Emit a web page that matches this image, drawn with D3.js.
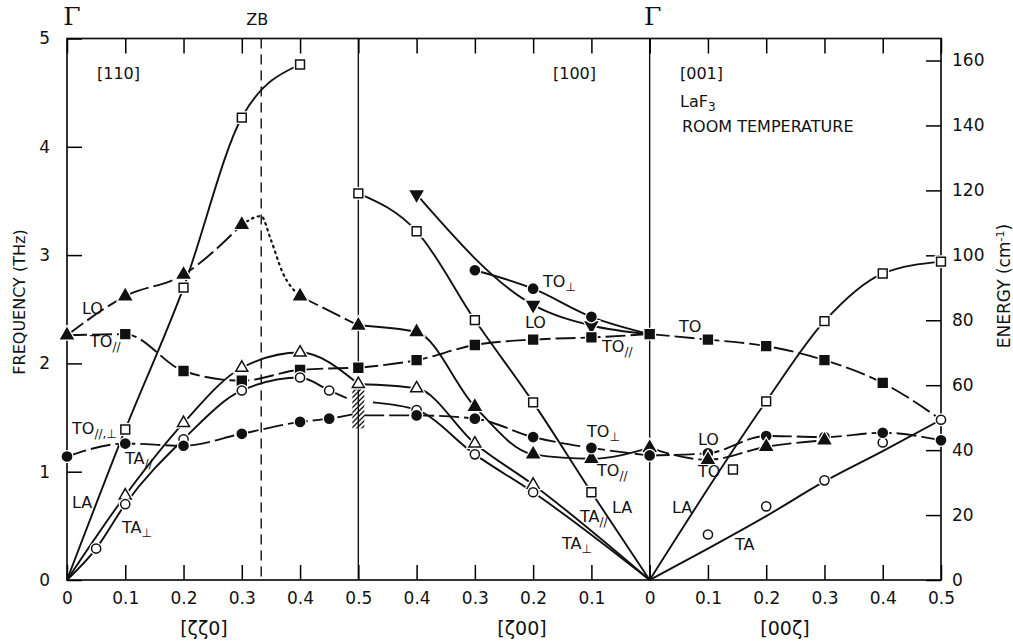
<!DOCTYPE html>
<html>
<head>
<meta charset="utf-8">
<script src="https://cdn.jsdelivr.net/npm/d3@7"></script>
<style>
body { margin: 0; background: #fff; }
text { font-family: "DejaVu Sans", sans-serif; fill: #111; }
</style>
</head>
<body>
<svg id="chart" width="1013" height="644"></svg>
<script>
// [zeta, THz] pairs, one list per branch

const origin = [0, 0];

// [110]
const la110 = [[0.1, 1.39], [0.2, 2.70], [0.3, 4.27], [0.4, 4.76]];
const lo110 = [[0, 2.26], [0.1, 2.62], [0.2, 2.82], [0.3, 3.28], [0.4, 2.62], [0.5, 2.35]];
const loPeak110 = [[0.333, 3.36], [0.35, 3.14], [0.37, 2.84]];   // dotted part
const toPar110 = [[0.1, 2.27], [0.2, 1.93], [0.3, 1.84], [0.4, 1.94], [0.5, 1.96]];
const taPar110 = [[0.1, 0.78], [0.2, 1.45], [0.3, 1.96], [0.4, 2.10], [0.5, 1.81]];
const taPerp110 = [[0.05, 0.29], [0.1, 0.70], [0.2, 1.30], [0.3, 1.75], [0.4, 1.87], [0.45, 1.75]];
const taPerpEnd110 = [0.48, 1.68];
const toPP110 = [[0, 1.14], [0.1, 1.26], [0.2, 1.24], [0.3, 1.35], [0.4, 1.46], [0.45, 1.49]];
const toPPEnd110 = [0.49, 1.53];
const hatchZB = [1.40, 1.77];   // shaded range at zeta = 0.5

// [100]  (zeta runs from 0.5 back to 0)
const la100 = [[0.5, 3.57], [0.4, 3.22], [0.3, 2.40], [0.2, 1.64], [0.1, 0.81]];
const loDown100 = [[0.4, 3.56], [0.2, 2.54], [0.1, 2.35]];
const toPerpUp100 = [[0.3, 2.86], [0.2, 2.69], [0.1, 2.43]];
const toPar100 = [[0.4, 2.03], [0.3, 2.17], [0.2, 2.22], [0.1, 2.24], [0, 2.27]];
const toParLow100 = [[0.4, 2.29], [0.3, 1.60], [0.2, 1.16], [0.1, 1.12], [0, 1.22]];
const taPar100 = [[0.4, 1.77], [0.3, 1.26], [0.2, 0.88]];
const taPerpStart100 = [0.475, 1.64];
const taPerp100 = [[0.4, 1.57], [0.3, 1.16], [0.2, 0.81]];
const toPerpLowStart100 = [0.49, 1.52];
const toPerpLow100 = [[0.4, 1.52], [0.3, 1.49], [0.2, 1.32], [0.1, 1.22], [0, 1.15]];

// [001]
const la001 = [[0.2, 1.65], [0.3, 2.39], [0.4, 2.83], [0.5, 2.94]];
const extra001 = [[0.143, 1.02]];
const to001 = [[0.1, 2.22], [0.2, 2.16], [0.3, 2.03], [0.4, 1.82]];
const ta001 = [[0.1, 0.42], [0.2, 0.68], [0.3, 0.92], [0.4, 1.27], [0.5, 1.48]];
const taFit001 = [[0, 0], [0.1, 0.29], [0.2, 0.59], [0.3, 0.91], [0.4, 1.19], [0.5, 1.48]];
const lo001 = [[0.1, 1.17], [0.2, 1.33], [0.3, 1.32], [0.4, 1.36], [0.5, 1.29]];
const toLow001 = [[0.1, 1.11], [0.2, 1.23], [0.3, 1.29]];

const freqTicks = [0, 1, 2, 3, 4, 5];
const energyTicks = [0, 20, 40, 60, 80, 100, 120, 140, 160];
const cmPerTHz = 33.356;

// ---------------------------------------------------------------

const svg = d3.select("#chart");
const x = d3.scaleLinear().domain([0, 1.5]).range([67, 941]);
const y = d3.scaleLinear().domain([0, 5]).range([580, 38.5]);
const yE = d3.scaleLinear().domain([0, 5 * cmPerTHz]).range([580, 38.5]);

// panel 0 = [110], 1 = [100] (reversed), 2 = [001]
function sOf(p, z) { return p === 0 ? z : p === 1 ? 1 - z : 1 + z; }
function zOf(s) { return s <= 0.5 ? s : s <= 1 ? 1 - s : s - 1; }

const sTicks = d3.range(0, 16).map(i => i / 10);

// hatch pattern
const defs = svg.append("defs");
defs.append("pattern")
  .attr("id", "hatch").attr("patternUnits", "userSpaceOnUse")
  .attr("width", 5).attr("height", 5)
  .append("path").attr("d", "M-1,1 l2,-2 M0,5 l5,-5 M4,6 l2,-2")
  .attr("stroke", "#111").attr("stroke-width", 1.3);

// frame
svg.append("rect")
  .attr("x", x(0)).attr("y", y(5))
  .attr("width", x(1.5) - x(0)).attr("height", y(0) - y(5))
  .attr("fill", "none").attr("stroke", "#111").attr("stroke-width", 1.7);

// panel separators and zone boundary
[0.5, 1].forEach(s => {
  svg.append("line").attr("x1", x(s)).attr("x2", x(s)).attr("y1", y(5)).attr("y2", y(0))
    .attr("stroke", "#111").attr("stroke-width", 1.4);
});
svg.append("line").attr("x1", x(1 / 3)).attr("x2", x(1 / 3)).attr("y1", y(5)).attr("y2", y(0))
  .attr("stroke", "#111").attr("stroke-width", 1.4).attr("stroke-dasharray", "10,6");

// axes
function styleAxis(g, size) {
  g.select(".domain").remove();
  g.selectAll(".tick line").attr("stroke-width", 1.5);
  g.selectAll("text").style("font-size", size + "px");
}
svg.append("g").attr("transform", `translate(${x(0)},0)`)
  .call(d3.axisLeft(y).tickValues(freqTicks).tickSize(-15).tickPadding(17).tickFormat(d3.format("d")))
  .call(g => styleAxis(g, 17));
svg.append("g").attr("transform", `translate(${x(1.5)},0)`)
  .call(d3.axisRight(yE).tickValues(energyTicks).tickSize(-15).tickPadding(11).tickFormat(d3.format("d")))
  .call(g => styleAxis(g, 17));
svg.append("g").attr("transform", `translate(0,${y(0)})`)
  .call(d3.axisBottom(x).tickValues(sTicks).tickSize(-15).tickPadding(12)
    .tickFormat(s => { const v = Math.round(zOf(s) * 10) / 10; return v === 0 ? "0" : v.toFixed(1); }))
  .call(g => styleAxis(g, 17));
svg.append("g").attr("transform", `translate(0,${y(5)})`)
  .call(d3.axisTop(x).tickValues(sTicks).tickSize(-15).tickFormat(""))
  .call(g => styleAxis(g, 17));

// hatched range at the [110] zone edge
svg.append("rect")
  .attr("x", x(0.5) - 6).attr("width", 12)
  .attr("y", y(hatchZB[1])).attr("height", y(hatchZB[0]) - y(hatchZB[1]))
  .attr("fill", "url(#hatch)");

// curves: [panel, points, style]
const curves = [
  [0, [origin, ...la110], "solid"],
  [0, lo110.slice(0, 4), "dash"],
  [0, [lo110[3], ...loPeak110, lo110[4]], "dot"],
  [0, lo110.slice(4), "dash"],
  [0, [lo110[0], ...toPar110], "dash"],
  [0, [origin, ...taPar110], "solid"],
  [0, [origin, ...taPerp110, taPerpEnd110], "solid"],
  [0, [...toPP110, toPPEnd110], "dash"],

  [1, [...la100, origin], "solid"],
  [1, [...loDown100, toPar100[4]], "solid"],
  [1, [...toPerpUp100, toPar100[4]], "solid"],
  [1, [toPar110[4], ...toPar100], "dash"],
  [1, [lo110[5], ...toParLow100], "solid"],
  [1, [taPar110[4], ...taPar100, origin], "solid"],
  [1, [taPerpStart100, ...taPerp100, origin], "solid"],
  [1, [toPerpLowStart100, ...toPerpLow100], "dash"],

  [2, [origin, ...la001], "solid"],
  [2, [toPar100[4], ...to001, ta001[4]], "dash"],
  [2, taFit001, "solid"],
  [2, [toPerpLow100[4], ...lo001], "dash"],
  [2, [toParLow100[4], ...toLow001], "dash"]
];

const dashOf = { solid: null, dash: "20,5", dot: "1.5,4.5" };
curves.forEach(([p, pts, st]) => {
  const gen = d3.line()
    .x(d => x(sOf(p, d[0]))).y(d => y(d[1]))
    .curve(d3.curveMonotoneX);
  svg.append("path").attr("d", gen(pts))
    .attr("fill", "none").attr("stroke", "#111")
    .attr("stroke-width", st === "dot" ? 2.2 : 1.9)
    .attr("stroke-linecap", st === "dot" ? "round" : "butt")
    .attr("stroke-dasharray", dashOf[st]);
});

// markers: [panel, points, symbol, filled]
const markers = [
  [0, la110, "square", false], [0, lo110, "up", true], [0, toPar110, "square", true],
  [0, taPar110, "up", false], [0, taPerp110, "circle", false], [0, toPP110, "circle", true],
  [1, la100, "square", false], [1, loDown100, "down", true], [1, toPerpUp100, "circle", true],
  [1, toPar100, "square", true], [1, toParLow100, "up", true], [1, taPar100, "up", false],
  [1, taPerp100, "circle", false], [1, toPerpLow100, "circle", true],
  [2, la001, "square", false], [2, extra001, "square", false], [2, to001, "square", true],
  [2, ta001, "circle", false], [2, lo001, "circle", true], [2, toLow001, "up", true]
];
const symType = { square: d3.symbolSquare, circle: d3.symbolCircle, up: d3.symbolTriangle, down: d3.symbolTriangle };
const symSize = { square: 78, circle: 66, up: 62, down: 62 };

markers.forEach(([p, pts, sym, filled]) => {
  const path = d3.symbol().type(symType[sym]).size(symSize[sym])();
  const rot = sym === "down" ? " rotate(180)" : "";
  const g = svg.append("g");
  g.selectAll("path.halo").data(pts).join("path").attr("class", "halo")
    .attr("d", path)
    .attr("transform", d => `translate(${x(sOf(p, d[0]))},${y(d[1])})${rot}`)
    .attr("fill", "#fff").attr("stroke", "#fff").attr("stroke-width", 4);
  g.selectAll("path.mk").data(pts).join("path").attr("class", "mk")
    .attr("d", path)
    .attr("transform", d => `translate(${x(sOf(p, d[0]))},${y(d[1])})${rot}`)
    .attr("fill", filled ? "#111" : "#fff").attr("stroke", "#111").attr("stroke-width", 1.5);
});

// branch labels: [text, subscript, x, baseline]
const branchLabels = [
  ["LO", "", 82, 314], ["TO", "//", 90, 347], ["TO", "//,\u22A5", 72, 434],
  ["TA", "//", 125, 464], ["LA", "", 72, 508], ["TA", "\u22A5", 122, 533],
  ["TO", "\u22A5", 543, 287], ["LO", "", 525, 328], ["TO", "//", 602, 352],
  ["TO", "\u22A5", 587, 437], ["TO", "//", 597, 476], ["LA", "", 612, 513],
  ["TA", "//", 580, 522], ["TA", "\u22A5", 562, 549],
  ["TO", "", 679, 332], ["LO", "", 698, 445], ["TO", "", 698, 477],
  ["LA", "", 672, 513], ["TA", "", 735, 550]
];
branchLabels.forEach(([t, sub, lx, ly]) => {
  const tx = svg.append("text").attr("x", lx).attr("y", ly).style("font-size", "16px").text(t);
  if (sub) tx.append("tspan").attr("dy", 4).style("font-size", "12px").text(sub);
});

// panel texts
function label(t, lx, ly, size, anchor) {
  return svg.append("text").attr("x", lx).attr("y", ly)
    .attr("text-anchor", anchor || "start").style("font-size", size + "px").text(t);
}
label("[110]", 97, 79, 16);
label("[100]", 553, 79, 16);
label("[001]", 680, 79, 16);
const laf = label("LaF", 680, 107, 16);
laf.append("tspan").attr("dy", 4).style("font-size", "12px").text("3");
label("ROOM TEMPERATURE", 682, 132, 16);

label("ZB", x(1 / 3) - 4, 25, 16, "middle");
label("\u0393", x(0) + 5, 25, 25, "middle").style("font-family", "'DejaVu Serif', serif");
label("\u0393", x(1) + 3, 25, 25, "middle").style("font-family", "'DejaVu Serif', serif");

label("[\u03B6\u03B60]", 204, 635, 19, "middle");
label("[\u03B600]", 522, 635, 19, "middle");
label("[00\u03B6]", 785, 635, 19, "middle");

svg.append("text").attr("transform", "translate(25,302) rotate(-90)")
  .attr("text-anchor", "middle").style("font-size", "16px").text("FREQUENCY  (THz)");
const en = svg.append("text").attr("transform", "translate(1010,286) rotate(-90)")
  .attr("text-anchor", "middle").style("font-size", "17px").text("ENERGY (cm");
en.append("tspan").attr("dy", -6).style("font-size", "11px").text("-1");
en.append("tspan").attr("dy", 6).text(")");
</script>
</body>
</html>
